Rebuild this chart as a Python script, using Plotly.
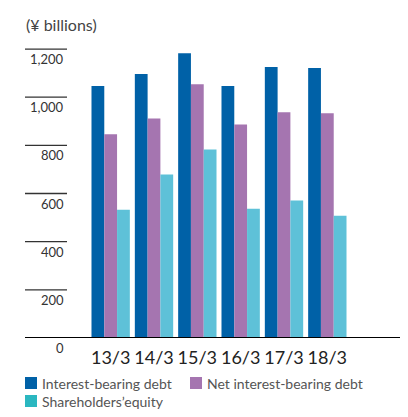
import plotly.graph_objects as go

categories = ["13/3", "14/3", "15/3", "16/3", "17/3", "18/3"]
interest_bearing_debt = [1046, 1096, 1183, 1046, 1125, 1121]
net_interest_bearing_debt = [846, 912, 1054, 887, 937, 933]
shareholders_equity = [533, 679, 783, 537, 571, 508]
series_names = ["Interest-bearing debt", "Net interest-bearing debt", "Shareholders\u2019equity"]
colors = ["#0061a7", "#a575b0", "#5ec1d8"]
legend_colors = ["#0061a7", "#a575b0", "#2bb7c0"]
y_ticks = [0, 200, 400, 600, 800, 1000, 1200]

# page body has an 8px margin; work in window coordinates and convert
OFF = 8
W, H = 408 - OFF, 417 - OFF
PL, PR, PT, PB = 89, 349, 37, 338   # plot area in window px
L = PL - OFF
T = PT - OFF
R = W - (PR - OFF)
B = H - (PB - OFF)
pw = PR - PL
ph = PB - PT

def px_x(x):
    return (x - PL) / pw

def px_y(y):
    return (PB - y) / ph

fig = go.Figure()
for name, vals, c in zip(series_names, [interest_bearing_debt, net_interest_bearing_debt, shareholders_equity], colors):
    fig.add_trace(go.Bar(x=categories, y=vals, name=name, marker=dict(color=c, line=dict(width=0)), showlegend=False))

shapes = []
annotations = []
for t in y_ticks:
    if t > 0:
        shapes.append(dict(type="line", xref="paper", yref="y", x0=px_x(25), x1=px_x(67), y0=t, y1=t,
                           line=dict(color="#333333", width=1.3)))
    annotations.append(dict(xref="paper", yref="y", x=px_x(66), y=t, yshift=-10, text=f"{t:,}",
                            showarrow=False, xanchor="right", yanchor="middle",
                            font=dict(family="Lato", size=13, color="#333333")))
# baseline
shapes.append(dict(type="line", xref="paper", yref="y", x0=px_x(25), x1=px_x(401), y0=0, y1=0,
                   line=dict(color="#000000", width=2)))

# title
annotations.append(dict(xref="paper", yref="paper", x=px_x(24), y=px_y(25), text="(\u00a5 billions)",
                        showarrow=False, xanchor="left", yanchor="middle",
                        font=dict(family="Lato", size=16, color="#444444")))

# legend (manual)
leg_pos = [(25, 383), (190, 383), (25, 401)]
for name, c, (lx, ly) in zip(series_names, legend_colors, leg_pos):
    shapes.append(dict(type="rect", xref="paper", yref="paper", x0=px_x(lx), x1=px_x(lx + 12),
                       y0=px_y(ly - 6), y1=px_y(ly + 6), fillcolor=c, line=dict(width=0)))
    annotations.append(dict(xref="paper", yref="paper", x=px_x(lx + 15), y=px_y(ly), text=name,
                            showarrow=False, xanchor="left", yanchor="middle",
                            font=dict(family="Lato", size=14, color="#555555")))

fig.update_layout(
    width=W, height=H,
    margin=dict(l=L, r=R, t=T, b=B, autoexpand=False),
    paper_bgcolor="white", plot_bgcolor="white",
    barmode="group", bargap=0.115, bargroupgap=0,
    xaxis=dict(type="category", range=[-0.5, 5.5], showgrid=False, zeroline=False, showline=False,
               ticks="", ticklabelstandoff=7, tickfont=dict(family="Lato", size=18, color="#222222")),
    yaxis=dict(range=[0, 1250], showgrid=False, zeroline=False, showline=False, showticklabels=False),
    shapes=shapes, annotations=annotations,
)

fig.write_html("out.html")
